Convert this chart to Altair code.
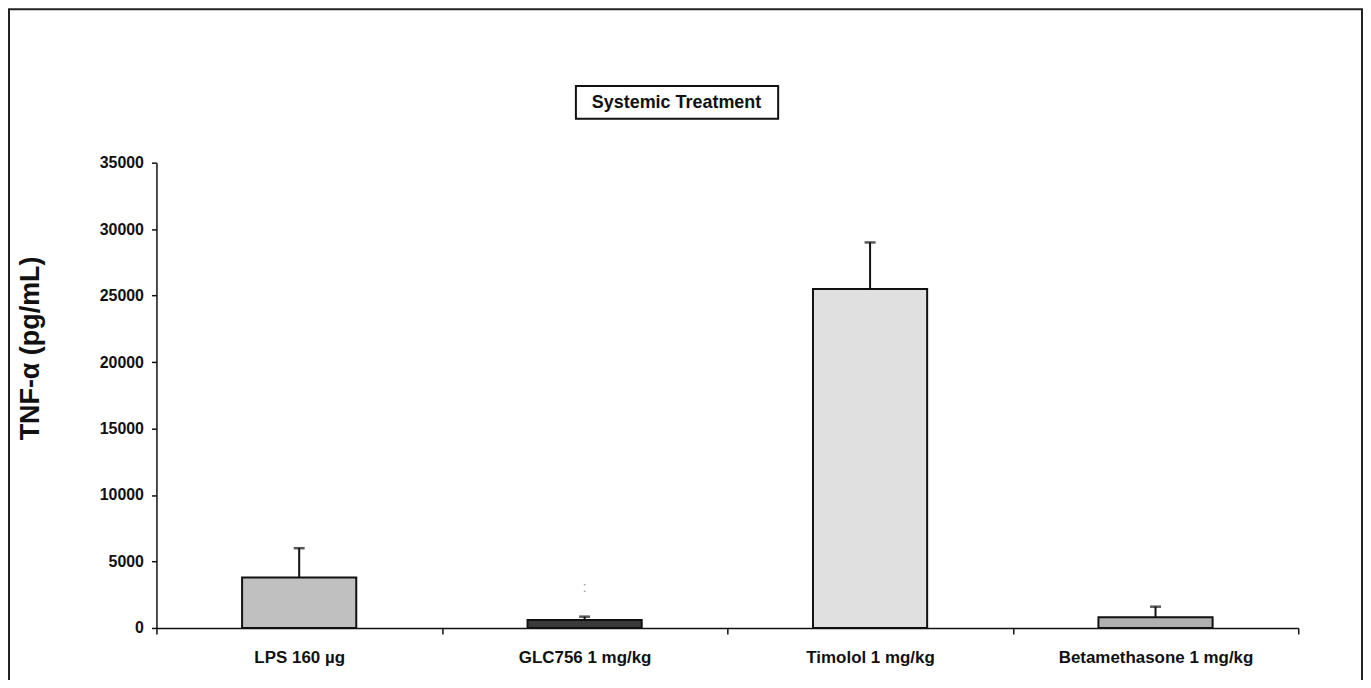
import altair as alt
import pandas as pd

categories = ["LPS 160 µg", "GLC756 1 mg/kg", "Timolol 1 mg/kg", "Betamethasone 1 mg/kg"]
means = [3800, 600, 25500, 800]
upper = [6000, 850, 29000, 1600]
fills = ["#c0c0c0", "#3a3a3a", "#e0e0e0", "#b0b0b0"]

artifact_cat = ["GLC756 1 mg/kg"]
artifact_y = [3000]

df = pd.DataFrame({"cat": categories, "mean": means, "upper": upper, "fill": fills})
art = pd.DataFrame({"cat": artifact_cat, "y": artifact_y})

W, H = 1146, 467
FONT = "Liberation Sans"

xenc = alt.X("cat:N", sort=categories,
             scale=alt.Scale(paddingInner=0, paddingOuter=0),
             axis=alt.Axis(title=None, tickBand="extent", labelAngle=0, labelLimit=0,
                           labelFont=FONT, labelFontWeight="bold", labelFontSize=17,
                           labelColor="#111", labelPadding=16, tickSize=6,
                           tickColor="#111", tickWidth=1.5, domainColor="#111",
                           domainWidth=1.5, grid=False))
yscale = alt.Scale(domain=[0, 35000], nice=False)
yaxis = alt.Axis(title="TNF-α (pg/mL)", values=list(range(0, 35001, 5000)), format="d",
                 labelFont=FONT, labelFontWeight="bold", labelFontSize=16,
                 labelColor="#111", labelPadding=8, tickSize=5, tickColor="#111",
                 tickWidth=1.5, domainColor="#111", domainWidth=1.5, grid=False,
                 titleFont=FONT, titleFontWeight="bold", titleFontSize=27,
                 titleColor="#111", titleX=-126, titleY=186, titleBaseline="middle",
                 titleAlign="center")

bars = alt.Chart(df).mark_bar(width=alt.RelativeBandSize(0.4), stroke="#111",
                              strokeWidth=2).encode(
    x=xenc,
    y=alt.Y("mean:Q", scale=yscale, axis=yaxis),
    fill=alt.Fill("fill:N", scale=None),
)

whisk = alt.Chart(df).mark_rule(color="#111", strokeWidth=2).encode(
    x=alt.X("cat:N", sort=categories),
    y="mean:Q", y2="upper:Q",
)
caps = alt.Chart(df).mark_tick(color="#111", thickness=2.5, size=11,
                               orient="horizontal").encode(
    x=alt.X("cat:N", sort=categories),
    y="upper:Q",
)
dots = alt.Chart(art).mark_text(text=":", fontSize=14, color="#999",
                                font=FONT).encode(
    x=alt.X("cat:N", sort=categories),
    y="y:Q",
)

one = pd.DataFrame({"a": [1]})
frame = alt.Chart(one).mark_rect(fill=None, stroke="#222", strokeWidth=2).encode(
    x=alt.value(-148), x2=alt.value(1210), y=alt.value(-154), y2=alt.value(700)
)
tbox = alt.Chart(one).mark_rect(fill="white", stroke="#111", strokeWidth=2).encode(
    x=alt.value(421), x2=alt.value(624), y=alt.value(-77), y2=alt.value(-44)
)
ttext = alt.Chart(one).mark_text(text="Systemic Treatment", font=FONT,
                                 fontWeight="bold", fontSize=18, color="#111",
                                 align="center", baseline="middle").encode(
    x=alt.value(522), y=alt.value(-60)
)

chart = alt.layer(frame, tbox, ttext, bars, whisk, caps, dots).properties(
    width=W, height=H,
    autosize=alt.AutoSizeParams(type="none"),
    padding={"left": 149, "top": 154, "right": 65, "bottom": 51},
).configure(background="white").configure_view(stroke=None)

chart.save("out.html", embed_options={"renderer": "svg", "actions": False})
